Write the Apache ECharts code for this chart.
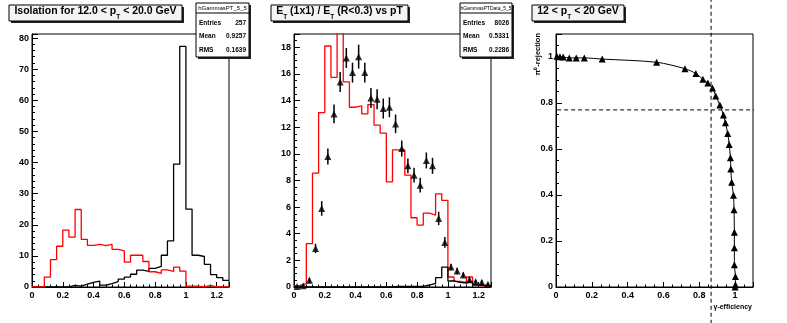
<!DOCTYPE html>
<html>
<head>
<meta charset="utf-8">
<script src="https://cdn.jsdelivr.net/npm/echarts@6/dist/echarts.min.js"></script>
<style>
html, body { margin: 0; padding: 0; background: #fff; }
#c { width: 787px; height: 323px; }
</style>
</head>
<body>
<div id="c"></div>
<script>
// Isolation study, 12 < pT < 20 GeV: three pads drawn in one canvas.
const FONT = '"Liberation Sans", Arial, Helvetica, sans-serif';

// histogram binning (same for both isolation plots)
const binWidth = 0.04;
const histMax = 1.28;

// pad 1: isolation fraction, photons (red) and pi0 background (black)
const isoSignal = [0, 0, 3.2, 8.8, 13.1, 18.3, 16.0, 24.9, 15.3, 13.4, 13.7, 13.3, 13.7, 12.1, 11.6, 8.0,
                   10.2, 10.2, 8.2, 4.9, 4.4, 5.5, 5.0, 6.4, 5.1, 0.3, 0.3, 0, 0.5, 0, 0, 0];
const isoBackground = [0, 0, 0, 0, 0, 0, 0.5, 0.3, 0.9, 1.5, 1.9, 0.6, 1.1, 1.7, 2.5, 3.2,
                       4.1, 5.4, 5.0, 6.0, 6.6, 10.2, 14.8, 39.5, 77.3, 25.0, 10.2, 9.8, 7.3, 4.0, 3.0, 2.1];
const isoYMax = 81.3;
const isoStats = ['hGammasPT_5_5', '257', '0.9257', '0.1639'];

// pad 2: ET(1x1)/ET(R<0.3), simulation (red), background (black) and data points
const ratioSim = [0.1, 0.25, 3.25, 8.55, 13.1, 18.1, 15.75, 25.0, 15.4, 13.5, 13.6, 13.0, 13.7, 12.15, 11.55, 7.9,
                  10.3, 10.3, 8.4, 5.2, 4.65, 5.55, 5.4, 7.0, 6.5, 0.75, 0.42, 0.35, 0.75, 0.12, 0.08, 0.08];
const ratioBkg = [0, 0, 0, 0, 0, 0, 0, 0, 0, 0, 0, 0, 0, 0, 0, 0,
                  0.05, 0.05, 0.05, 0.05, 0.05, 0.15, 0.28, 0.7, 1.5, 0.45, 0.35, 0.3, 0.42, 0.18, 0.12, 0.1];
const ratioData = [0.03, 0.1, 0.5, 2.9, 5.9, 9.8, 13.0, 15.4, 17.2, 16.1, 17.3, 16.1, 14.2, 14.1, 13.4, 13.5,
                   12.25, 10.4, 9.1, 8.4, 7.65, 9.5, 9.1, 5.15, 3.35, 1.5, 1.2, 0.9, 0.55, 0.4, 0.35, 0.2];
const ratioErr = [0.1, 0.12, 0.2, 0.35, 0.55, 0.6, 0.7, 0.75, 0.75, 0.75, 0.9, 0.75, 0.75, 0.75, 0.75, 0.75,
                  0.7, 0.6, 0.55, 0.55, 0.55, 0.6, 0.6, 0.5, 0.4, 0.25, 0.25, 0.2, 0.2, 0.15, 0.15, 0.12];
const ratioYMax = 19;
const ratioStats = ['hGammasPTData_5_5', '8026', '0.5331', '0.2286'];

// pad 3: pi0 rejection versus photon efficiency
const effX = [0.005, 0.022, 0.04, 0.074, 0.113, 0.158, 0.258, 0.562, 0.72, 0.781, 0.82, 0.848, 0.874, 0.892, 0.915,
              0.935, 0.946, 0.959, 0.967, 0.974, 0.976, 0.981, 0.991, 0.994, 0.996, 0.996, 0.996, 1.002, 1.002, 1.0];
const rejY = [1.003, 1.001, 1.0, 0.996, 0.996, 0.996, 0.991, 0.977, 0.949, 0.928, 0.903, 0.887, 0.865, 0.830, 0.791,
              0.748, 0.714, 0.667, 0.620, 0.562, 0.513, 0.455, 0.399, 0.336, 0.238, 0.171, 0.097, 0.046, 0.010, 0.0];
const cutEff = 0.866;
const cutRej = 0.77;
const cutLineSpan = { y: [-0.16, 1.25], x: [-0.15, 1.23] };

// titles
const titles = [
  [{ t: 'Isolation for 12.0 < p' }, { t: 'T', sub: true }, { t: ' < 20.0 GeV' }],
  [{ t: 'E' }, { t: 'T', sub: true }, { t: ' (1x1) / E' }, { t: 'T', sub: true }, { t: ' (R<0.3) vs pT' }],
  [{ t: '12 < p' }, { t: 'T', sub: true }, { t: ' < 20 GeV' }]
];

// ---------------------------------------------------------------------------

function histSteps(vals) {
  const pts = vals.map((v, i) => [i * binWidth, v]);
  pts.push([vals.length * binWidth, vals[vals.length - 1]]);
  return pts;
}

function fmtTick(major) {
  return function (v) {
    const k = v / major;
    if (Math.abs(k - Math.round(k)) > 1e-6) return '';
    return String(+v.toFixed(3));
  };
}

const labelStyle = { fontFamily: FONT, fontWeight: 'bold', fontSize: 9, color: '#000' };

function axisPair(dim, gridIndex, max, major, minor, majorLen, minorLen) {
  const base = {
    type: 'value', gridIndex, min: 0, max,
    position: dim === 'x' ? 'bottom' : 'left',
    splitLine: { show: false },
    splitArea: { show: false }
  };
  return [
    Object.assign({}, base, {
      interval: major,
      axisLine: { show: true, onZero: false, lineStyle: { color: '#000', width: 1 } },
      axisTick: { show: true, inside: true, length: majorLen, lineStyle: { color: '#000', width: 1 } },
      axisLabel: Object.assign({ show: true, margin: dim === 'x' ? 4 : 3, formatter: fmtTick(major),
                                 showMinLabel: true, showMaxLabel: true, hideOverlap: false }, labelStyle)
    }),
    Object.assign({}, base, {
      interval: minor,
      axisLine: { show: false, onZero: false },
      axisTick: { show: true, inside: true, length: minorLen, lineStyle: { color: '#000', width: 1 } },
      axisLabel: { show: false }
    })
  ];
}

const xAxes = [].concat(
  axisPair('x', 0, histMax, 0.2, binWidth, 5, 2.5),
  axisPair('x', 1, histMax, 0.2, binWidth, 5, 2.5),
  axisPair('x', 2, 1.1, 0.2, 0.05, 5, 2.5)
);
const yAxes = [].concat(
  axisPair('y', 0, isoYMax, 10, 2, 6, 3),
  axisPair('y', 1, ratioYMax, 2, 0.5, 6, 3),
  axisPair('y', 2, 1.1, 0.2, 0.05, 6, 3)
);

const gridBox = { top: 34, width: 197, height: 253, show: true, borderColor: '#000', borderWidth: 1,
                  backgroundColor: 'rgba(0,0,0,0)', containLabel: false, outerBoundsMode: 'none' };

// title box with drop shadow and a subscripted label
function titleBox(x, y, w, h, parts, fs) {
  const rich = {
    m: { fontFamily: FONT, fontWeight: 'bold', fontSize: fs, fill: '#000' },
    s: { fontFamily: FONT, fontWeight: 'bold', fontSize: 6.5, fill: '#000', padding: [12, 0, 0, 0] }
  };
  const text = parts.map(p => '{' + (p.sub ? 's' : 'm') + '|' + p.t + '}').join('');
  return [
    { type: 'rect', z: 100, shape: { x: x + 2, y: y + 2, width: w, height: h }, style: { fill: '#222' } },
    { type: 'rect', z: 101, shape: { x: x, y: y, width: w, height: h }, style: { fill: '#f4f4f4', stroke: '#000', lineWidth: 1 } },
    { type: 'text', z: 102, x: x + w / 2, y: y + h / 2 - 1.5,
      style: { text: text, rich: rich, align: 'center', verticalAlign: 'middle' } }
  ];
}

// statistics box: name header, entries, mean, rms
function statsBox(x, y, w, h, stats, headSize) {
  const rows = [['Entries', stats[1]], ['Mean', stats[2]], ['RMS', stats[3]]];
  const els = [
    { type: 'rect', z: 100, shape: { x: x + 2, y: y + 2, width: w, height: h }, style: { fill: '#222' } },
    { type: 'rect', z: 101, shape: { x: x, y: y, width: w, height: h }, style: { fill: '#fff', stroke: '#000', lineWidth: 1 } },
    { type: 'line', z: 102, shape: { x1: x, y1: y + 10, x2: x + w, y2: y + 10 }, style: { stroke: '#000', lineWidth: 1 } },
    { type: 'text', z: 102, x: x + w / 2, y: y + 5.5,
      style: { text: stats[0], fontFamily: FONT, fontSize: headSize, fill: '#000', align: 'center', verticalAlign: 'middle' } }
  ];
  rows.forEach((r, i) => {
    const ry = y + 20 + i * 13.5;
    els.push({ type: 'text', z: 102, x: x + 3, y: ry,
      style: { text: r[0], fontFamily: FONT, fontWeight: 'bold', fontSize: 6.5, fill: '#000', align: 'left', verticalAlign: 'middle' } });
    els.push({ type: 'text', z: 102, x: x + w - 3, y: ry,
      style: { text: r[1], fontFamily: FONT, fontWeight: 'bold', fontSize: 6.5, fill: '#000', align: 'right', verticalAlign: 'middle' } });
  });
  return els;
}

const graphics = [].concat(
  titleBox(9, 5, 173, 16, titles[0], 10.5),
  titleBox(271, 5, 137, 16, titles[1], 10.5),
  titleBox(532, 5, 92, 16, titles[2], 10.5),
  statsBox(196, 3, 53, 54, isoStats, 6),
  statsBox(460, 3, 52, 54, ratioStats, 5),
  [
    { type: 'text', z: 102, x: 538, y: 33, rotation: Math.PI / 2,
      style: { text: 'π⁰-rejection', fontFamily: FONT, fontWeight: 'bold', fontSize: 7.5, fill: '#000',
               align: 'right', verticalAlign: 'middle' } },
    { type: 'text', z: 102, x: 752, y: 307,
      style: { text: 'γ-efficiency', fontFamily: FONT, fontWeight: 'bold', fontSize: 7, fill: '#000',
               align: 'right', verticalAlign: 'middle' } }
  ]
);

const histLine = (color) => ({ color: color, width: 1.3 });

const option = {
  animation: false,
  backgroundColor: '#fff',
  grid: [
    Object.assign({ left: 32 }, gridBox),
    Object.assign({ left: 294 }, gridBox),
    Object.assign({ left: 556 }, gridBox)
  ],
  xAxis: xAxes,
  yAxis: yAxes,
  graphic: { elements: graphics },
  series: [
    // pad 1
    { type: 'line', xAxisIndex: 0, yAxisIndex: 0, step: 'end', symbol: 'none', data: histSteps(isoBackground),
      lineStyle: histLine('#000'), z: 3, silent: true },
    { type: 'line', xAxisIndex: 0, yAxisIndex: 0, step: 'end', symbol: 'none', data: histSteps(isoSignal),
      lineStyle: histLine('#ff0000'), z: 4, silent: true },
    // pad 2
    { type: 'line', xAxisIndex: 2, yAxisIndex: 2, step: 'end', symbol: 'none', data: histSteps(ratioSim),
      lineStyle: histLine('#ff0000'), z: 3, silent: true },
    { type: 'line', xAxisIndex: 2, yAxisIndex: 2, step: 'end', symbol: 'none', data: histSteps(ratioBkg),
      lineStyle: histLine('#000'), z: 4, silent: true },
    { type: 'custom', xAxisIndex: 2, yAxisIndex: 2, z: 5, silent: true, clip: true,
      data: ratioData.map((v, i) => [(i + 0.5) * binWidth, v - ratioErr[i], v + ratioErr[i]]),
      encode: { x: 0, y: [1, 2] },
      renderItem: function (params, api) {
        const lo = api.coord([api.value(0), api.value(1)]);
        const hi = api.coord([api.value(0), api.value(2)]);
        return { type: 'line', shape: { x1: lo[0], y1: lo[1], x2: hi[0], y2: hi[1] },
                 style: { stroke: '#000', lineWidth: 1.5 } };
      } },
    { type: 'scatter', xAxisIndex: 2, yAxisIndex: 2, z: 6, silent: true,
      symbol: 'triangle', symbolSize: 7, itemStyle: { color: '#000' },
      data: ratioData.map((v, i) => [(i + 0.5) * binWidth, v]) },
    // pad 3
    { type: 'line', xAxisIndex: 4, yAxisIndex: 4, z: 4, silent: true, smooth: 0.3,
      symbol: 'triangle', symbolSize: 7, showAllSymbol: true,
      itemStyle: { color: '#000' }, lineStyle: { color: '#000', width: 1 },
      data: effX.map((x, i) => [x, rejY[i]]) },
    { type: 'line', xAxisIndex: 4, yAxisIndex: 4, z: 7, silent: true, clip: false, symbol: 'none',
      lineStyle: { color: '#000', width: 1, type: [4, 3] },
      data: [[cutEff, cutLineSpan.y[0]], [cutEff, cutLineSpan.y[1]]] },
    { type: 'line', xAxisIndex: 4, yAxisIndex: 4, z: 7, silent: true, clip: false, symbol: 'none',
      lineStyle: { color: '#000', width: 1, type: [4, 3] },
      data: [[cutLineSpan.x[0], cutRej], [cutLineSpan.x[1], cutRej]] }
  ]
};

const chart = echarts.init(document.getElementById('c'), null, { renderer: 'canvas' });
chart.setOption(option);
</script>
</body>
</html>
